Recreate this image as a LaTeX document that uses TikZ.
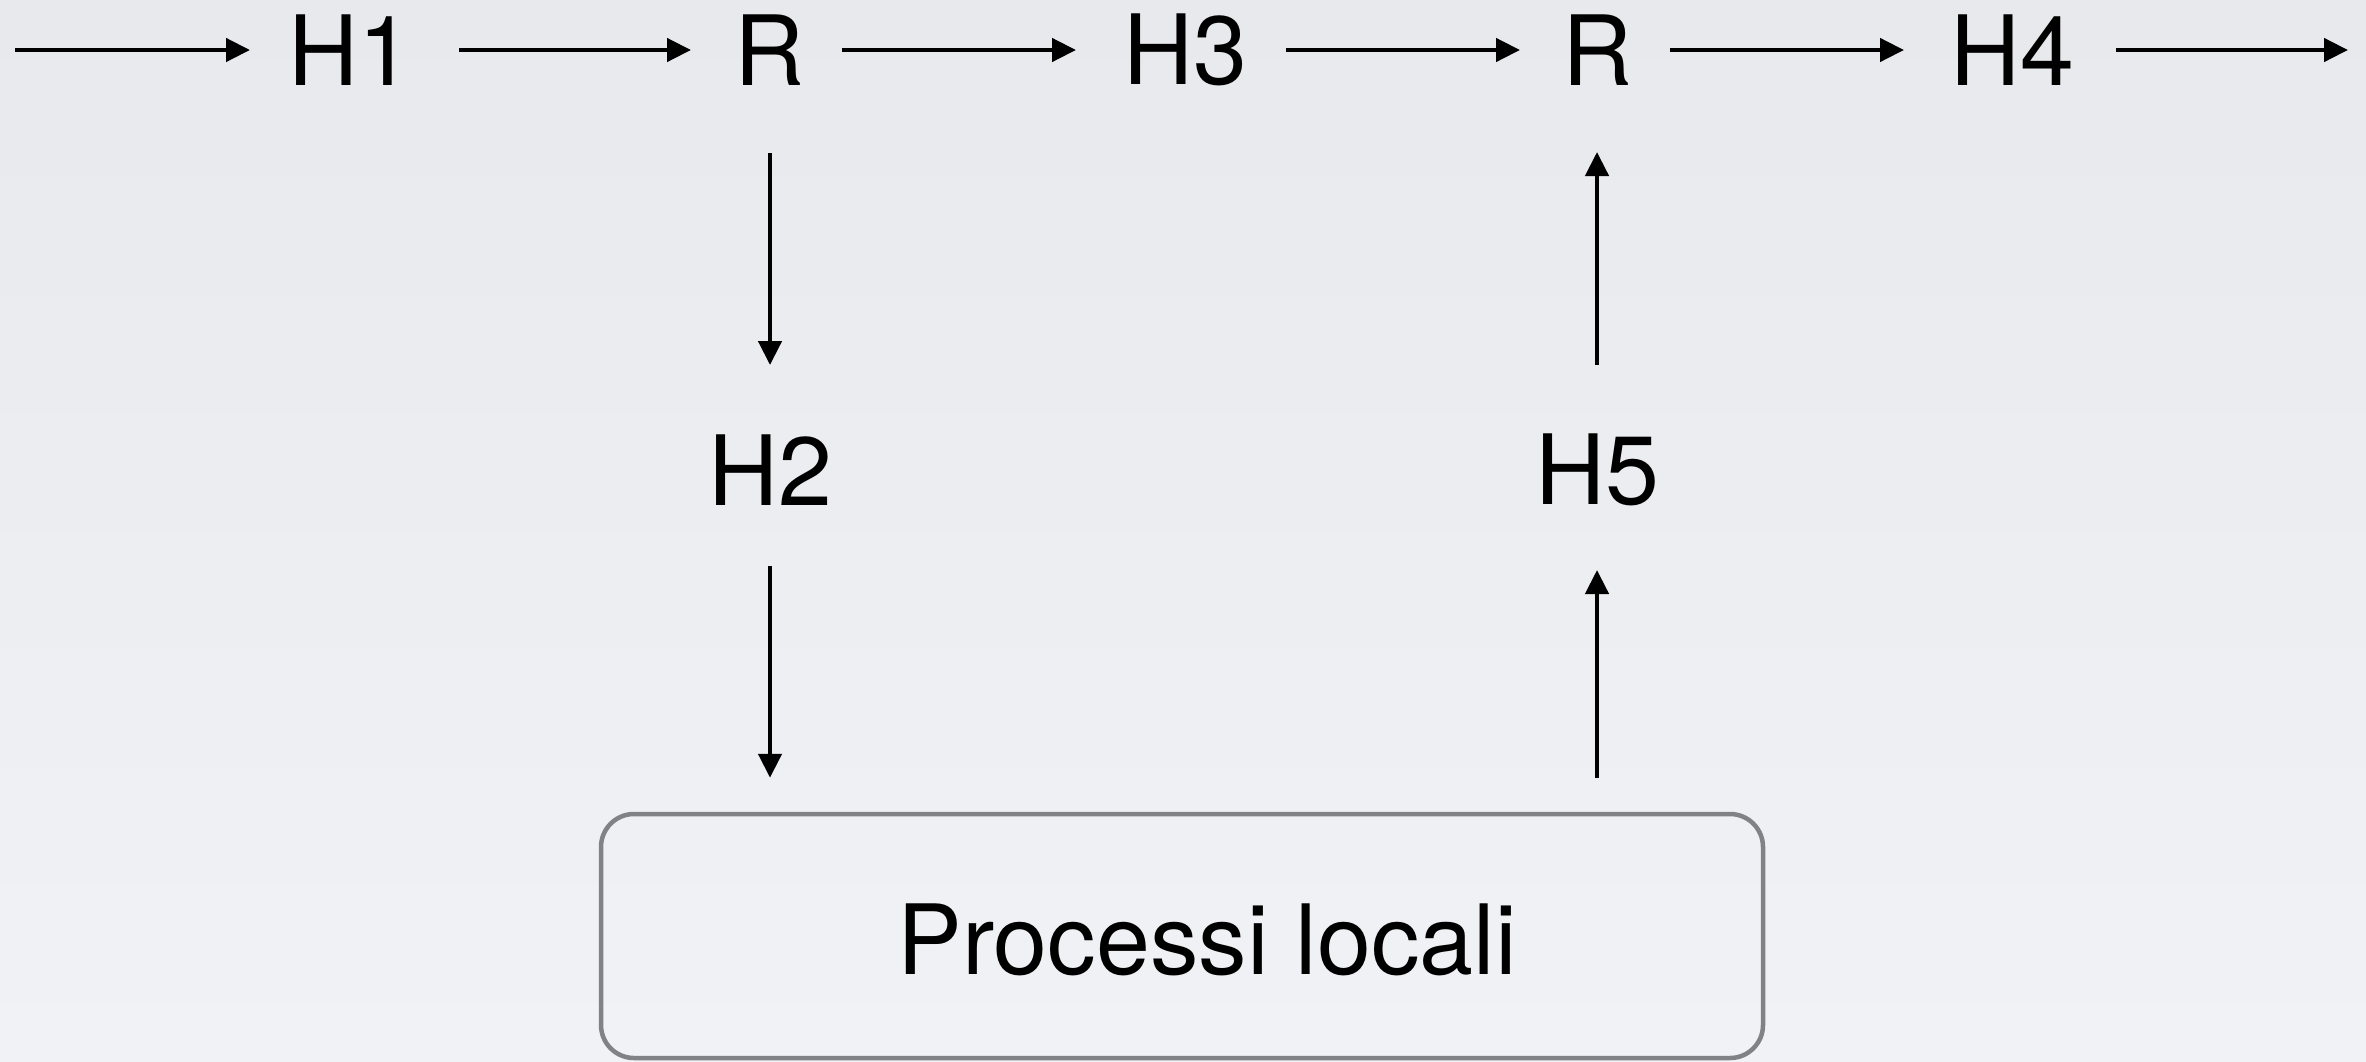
\documentclass[tikz,border=0pt]{standalone}
\usepackage{fontspec}
\setmainfont{TeX Gyre Heros}
\usetikzlibrary{arrows.meta}
\definecolor{bgtop}{HTML}{E8E9EC}
\definecolor{bgbot}{HTML}{F1F2F5}
\definecolor{boxline}{HTML}{808285}
\begin{document}
\begin{tikzpicture}[x=1pt,y=-1pt,
  lbl/.style={inner sep=0pt, font=\fontsize{97}{110}\selectfont},
  arr/.style={line width=4.5pt, -{Triangle[length=24pt,width=23pt]}},
  procbox/.style={draw=boxline, line width=4.5pt, rounded corners=33pt, minimum width=1162pt, minimum height=244pt, inner sep=0pt}]
\shade[top color=bgtop, bottom color=bgbot] (0,0) rectangle (2366,1061);
\useasboundingbox (0,0) rectangle (2366,1061);
\coordinate (in) at (15,50);
\coordinate (out) at (2348,50);
\node[lbl] (H1) at (350,50) {H1};
\node[lbl] (R1) at (770,50) {R};
\node[lbl] (H3) at (1185,50) {H3};
\node[lbl] (R2) at (1597,50) {R};
\node[lbl] (H4) at (2012,50) {H4};
\node[lbl] (H2) at (770,470) {H2};
\node[lbl] (H5) at (1597,470) {H5};
\node[procbox] (box) at (1182,936) {};
\node[lbl] (proc) at (1207,940) {Processi locali};
\draw[arr, shorten >=100pt] (in) -- (H1.center);
\draw[arr, shorten <=109pt, shorten >=79pt] (H1.center) -- (R1.center);
\draw[arr, shorten <=72pt, shorten >=109pt] (R1.center) -- (H3.center);
\draw[arr, shorten <=101pt, shorten >=77pt] (H3.center) -- (R2.center);
\draw[arr, shorten <=73pt, shorten >=108pt] (R2.center) -- (H4.center);
\draw[arr, shorten <=104pt] (H4.center) -- (out);
\draw[arr, shorten <=103pt, shorten >=105pt] (R1.center) -- (H2.center);
\draw[arr, shorten <=96pt, shorten >=34pt] (H2.center) -- (H2.center |- box.north);
\draw[arr, shorten <=34pt, shorten >=100pt] (H5.center |- box.north) -- (H5.center);
\draw[arr, shorten <=105pt, shorten >=102pt] (H5.center) -- (R2.center);
\end{tikzpicture}
\end{document}
